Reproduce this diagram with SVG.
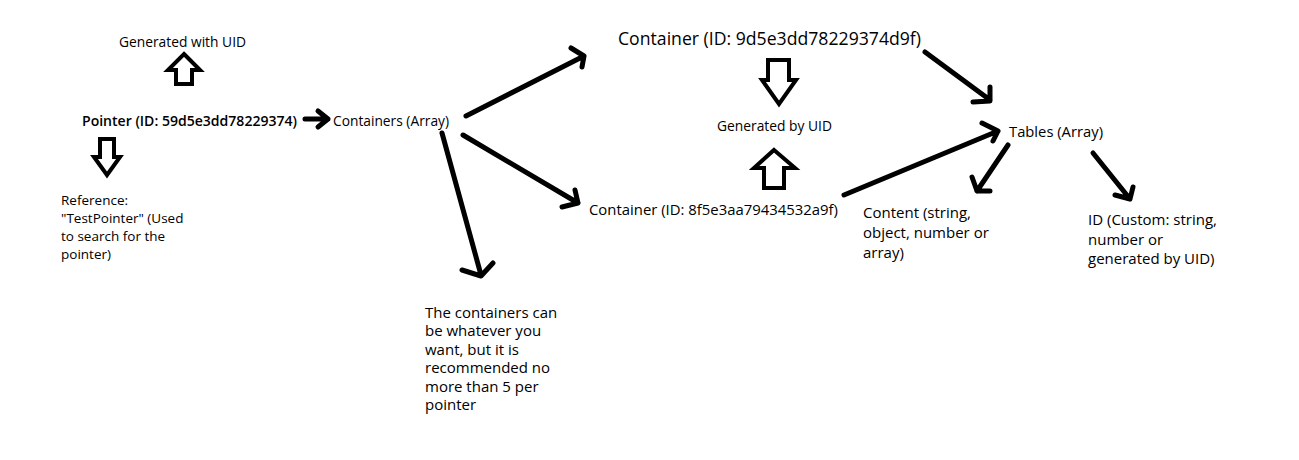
<svg xmlns="http://www.w3.org/2000/svg" width="1299" height="460" viewBox="0 0 1299 460">
<style>
text{font-family:"Open Sans","Noto Sans","Liberation Sans",sans-serif;font-size:14.5px;fill:#000}
.big{font-size:18.5px}
.b{font-weight:600}
.ml{font-size:15px}
.sm{font-size:13.5px}
.hollow{fill:#fff;stroke:#000;stroke-width:4;stroke-linejoin:miter}
.ln{fill:none;stroke:#000;stroke-width:5;stroke-linecap:round;stroke-linejoin:round}
</style>
<rect width="1299" height="460" fill="#fff"/>
<g id="n-genwith"><text x="119" y="47" textLength="127" lengthAdjust="spacingAndGlyphs">Generated with UID</text></g>
<g id="n-pointer"><text class="b" x="82" y="126" textLength="215" lengthAdjust="spacingAndGlyphs">Pointer (ID: 59d5e3dd78229374)</text></g>
<g id="n-containers"><text x="333" y="126" textLength="116" lengthAdjust="spacingAndGlyphs">Containers (Array)</text></g>
<g id="n-reference"><text class="sm" x="61" y="205"><tspan x="61">Reference:</tspan><tspan x="61" dy="18">"TestPointer" (Used</tspan><tspan x="61" dy="18">to search for the</tspan><tspan x="61" dy="18">pointer)</tspan></text></g>
<g id="n-container1"><text class="big" x="618" y="45" textLength="303" lengthAdjust="spacingAndGlyphs">Container (ID: 9d5e3dd78229374d9f)</text></g>
<g id="n-genby"><text x="717" y="131" textLength="115" lengthAdjust="spacingAndGlyphs">Generated by UID</text></g>
<g id="n-container2"><text x="589" y="215" textLength="249" lengthAdjust="spacingAndGlyphs">Container (ID: 8f5e3aa79434532a9f)</text></g>
<g id="n-tables"><text x="1009" y="137" textLength="94" lengthAdjust="spacingAndGlyphs">Tables (Array)</text></g>
<g id="n-content"><text class="ml" x="863" y="218"><tspan x="863">Content (string,</tspan><tspan x="863" dy="20">object, number or</tspan><tspan x="863" dy="20">array)</tspan></text></g>
<g id="n-id"><text class="ml" x="1088" y="225"><tspan x="1088">ID (Custom: string,</tspan><tspan x="1088" dy="19.5">number or</tspan><tspan x="1088" dy="19.5">generated by UID)</tspan></text></g>
<g id="n-note"><text class="ml" x="425" y="318"><tspan x="425">The containers can</tspan><tspan x="425" dy="18.4">be whatever you</tspan><tspan x="425" dy="18.4">want, but it is</tspan><tspan x="425" dy="18.4">recommended no</tspan><tspan x="425" dy="18.4">more than 5 per</tspan><tspan x="425" dy="18.4">pointer</tspan></text></g>
<g id="connectors">
<polygon class="hollow" points="184,54 200,70 192,70 192,84 176,84 176,70 168,70"/>
<polygon class="hollow" points="100,139 114,139 114,157 120,157 107,175 94,157 100,157"/>
<polygon class="hollow" points="768,60 789,60 789,80 796,80 779,104 762,80 768,80"/>
<polygon class="hollow" points="774,150 795,168 784,168 784,188 764,188 764,168 754,168"/>
<path class="ln" d="M305,119 L328,119 M318,111 L328,119 L318,127"/>
<path class="ln" d="M466,116 L584,56 M571,48 L584,56 L582,67"/>
<path class="ln" d="M463,135 L578,203 M575,190 L578,203 L562,207"/>
<path class="ln" d="M442,133 L481,275 M462,270 L481,276 L493,263"/>
<path class="ln" d="M925,52 L990,100 M990,87 L990,101 L973,102"/>
<path class="ln" d="M844,195 L998,131 M982,123 L998,131 L993,141"/>
<path class="ln" d="M1008,145 L977,191 M972,177 L977,191 L990,191"/>
<path class="ln" d="M1093,153 L1130,199 M1115,195 L1130,199 L1133,187"/>
</g>
</svg>
